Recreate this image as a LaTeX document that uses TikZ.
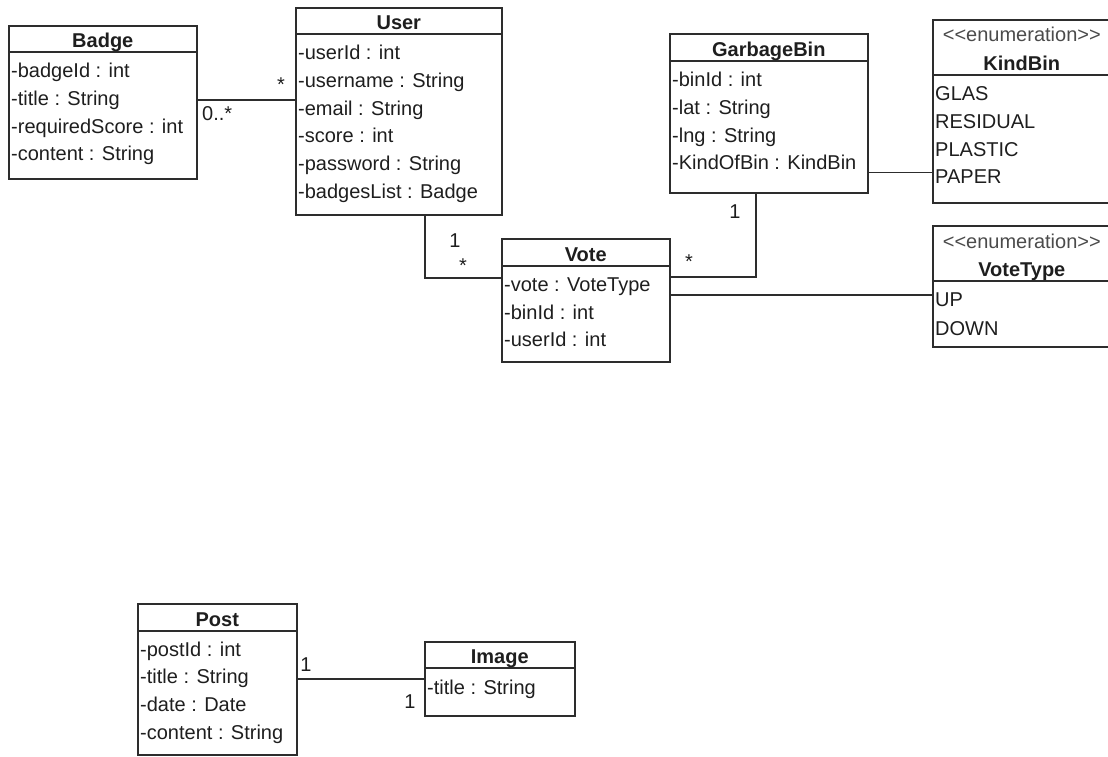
\documentclass[tikz,border=0pt]{standalone}
\usepackage{fontspec}
\setmainfont{Liberation Sans}
\usepackage{tikz}
\usetikzlibrary{calc, positioning}
\definecolor{cLine}{RGB}{45,45,45}
\definecolor{cText}{RGB}{30,30,30}
\newcommand{\umlfont}{\fontsize{20pt}{24pt}\selectfont}
\tikzset{
	classbox/.style={rectangle, draw=cLine, line width=1.6pt, anchor=north west, inner sep=0pt},
	classrule/.style={draw=cLine, line width=1.6pt},
	clsname/.style={font=\umlfont\bfseries, anchor=base, inner sep=0pt, text=cText},
	stereo/.style={anchor=base, inner sep=0pt, text=cText!80},
	attr/.style={anchor=base west, inner sep=0pt, text=cText},
	mult/.style={anchor=base, inner sep=0pt, text=cText},
	assoc/.style={draw=cLine, line width=1.6pt},
}

\begin{document}
\begin{tikzpicture}[x=1pt, y=-1pt, font=\umlfont]
	\useasboundingbox (0,0) rectangle (1108,756);

	% Badge
	\node[classbox, minimum width=188pt, minimum height=153pt] (badge) at (8,25) {};
	\draw[classrule] ($(badge.north west)+(0,27)$) -- ($(badge.north east)+(0,27)$);
	\node[clsname] (badge-n) at ($(badge.north)+(0,22.5)$) {Badge};
	\foreach \a [count=\i] in {-badgeId : int, -title : String, -requiredScore : int, -content : String}
		\node[attr] (badge-a\i) at ($(badge.north west)+(3,27+25.5+27.8*\i-27.8)$) {\a};

	% User
	\node[classbox, minimum width=206pt, minimum height=207pt] (user) at (295,7) {};
	\draw[classrule] ($(user.north west)+(0,27)$) -- ($(user.north east)+(0,27)$);
	\node[clsname] (user-n) at ($(user.north)+(0,22.5)$) {User};
	\foreach \a [count=\i] in {-userId : int, -username : String, -email : String, -score : int, -password : String, -badgesList : Badge}
		\node[attr] (user-a\i) at ($(user.north west)+(3,27+25.5+27.8*\i-27.8)$) {\a};

	% GarbageBin
	\node[classbox, minimum width=198pt, minimum height=159pt] (garbage) at (669,33) {};
	\draw[classrule] ($(garbage.north west)+(0,28)$) -- ($(garbage.north east)+(0,28)$);
	\node[clsname] (garbage-n) at ($(garbage.north)+(0,23.5)$) {GarbageBin};
	\foreach \a [count=\i] in {-binId : int, -lat : String, -lng : String, -KindOfBin : KindBin}
		\node[attr] (garbage-a\i) at ($(garbage.north west)+(3,28+25.5+27.8*\i-27.8)$) {\a};

	% KindBin
	\node[classbox, minimum width=178pt, minimum height=183pt] (kindbin) at (932,19) {};
	\draw[classrule] ($(kindbin.north west)+(0,56)$) -- ($(kindbin.north east)+(0,56)$);
	\node[stereo] (kindbin-s) at ($(kindbin.north)+(0,22)$) {<{}<enumeration>{}>};
	\node[clsname] (kindbin-n) at ($(kindbin.north)+(0,51)$) {KindBin};
	\foreach \a [count=\i] in {GLAS, RESIDUAL, PLASTIC, PAPER}
		\node[attr] (kindbin-a\i) at ($(kindbin.north west)+(3,56+25.5+27.8*\i-27.8)$) {\a};

	% Vote
	\node[classbox, minimum width=168pt, minimum height=123pt] (vote) at (501,238) {};
	\draw[classrule] ($(vote.north west)+(0,28)$) -- ($(vote.north east)+(0,28)$);
	\node[clsname] (vote-n) at ($(vote.north)+(0,23.5)$) {Vote};
	\foreach \a [count=\i] in {-vote : VoteType, -binId : int, -userId : int}
		\node[attr] (vote-a\i) at ($(vote.north west)+(3,28+25.5+27.5*\i-27.5)$) {\a};

	% VoteType
	\node[classbox, minimum width=178pt, minimum height=121pt] (votetype) at (932,225) {};
	\draw[classrule] ($(votetype.north west)+(0,56)$) -- ($(votetype.north east)+(0,56)$);
	\node[stereo] (votetype-s) at ($(votetype.north)+(0,23)$) {<{}<enumeration>{}>};
	\node[clsname] (votetype-n) at ($(votetype.north)+(0,51)$) {VoteType};
	\foreach \a [count=\i] in {UP, DOWN}
		\node[attr] (votetype-a\i) at ($(votetype.north west)+(3,56+25.5+28.5*\i-28.5)$) {\a};

	% Post
	\node[classbox, minimum width=159pt, minimum height=151pt] (post) at (137,603) {};
	\draw[classrule] ($(post.north west)+(0,28)$) -- ($(post.north east)+(0,28)$);
	\node[clsname] (post-n) at ($(post.north)+(0,23.5)$) {Post};
	\foreach \a [count=\i] in {-postId : int, -title : String, -date : Date, -content : String}
		\node[attr] (post-a\i) at ($(post.north west)+(3,28+25+27.7*\i-27.7)$) {\a};

	% Image
	\node[classbox, minimum width=150pt, minimum height=74pt] (image) at (424,641) {};
	\draw[classrule] ($(image.north west)+(0,27)$) -- ($(image.north east)+(0,27)$);
	\node[clsname] (image-n) at ($(image.north)+(0,22.5)$) {Image};
	\node[attr] (image-a1) at ($(image.north west)+(3,27+26)$) {-title : String};

	% associations
	\coordinate (bu) at ($(badge.north east)+(0,75)$);
	\draw[assoc] (bu) -- (bu -| user.west);
	\coordinate (uv) at ($(vote.north west)+(0,40)$);
	\draw[assoc] ($(user.south west)+(130,0)$) |- (uv);
	\coordinate (gv) at ($(vote.north east)+(0,39)$);
	\draw[assoc] ($(garbage.south west)+(87,0)$) |- (gv);
	\coordinate (gk) at ($(garbage.south east)+(0,-21)$);
	\draw[assoc] (gk) -- (gk -| kindbin.west);
	\coordinate (vt) at ($(vote.north east)+(0,57)$);
	\draw[assoc] (vt) -- (vt -| votetype.west);
	\draw[assoc] (image.west -| post.east) -- (image.west);

	% multiplicities
	\node[mult] (m-bu1) at (281,91) {*};
	\node[mult, anchor=base west] (m-bu2) at (202,120) {0..*};
	\node[mult] (m-uv1) at (455,247) {1};
	\node[mult] (m-uv2) at (463,272) {*};
	\node[mult] (m-gv1) at (735,218) {1};
	\node[mult] (m-gv2) at (689,268) {*};
	\node[mult] (m-pi1) at (306,671) {1};
	\node[mult] (m-pi2) at (410,708) {1};
\end{tikzpicture}
\end{document}
